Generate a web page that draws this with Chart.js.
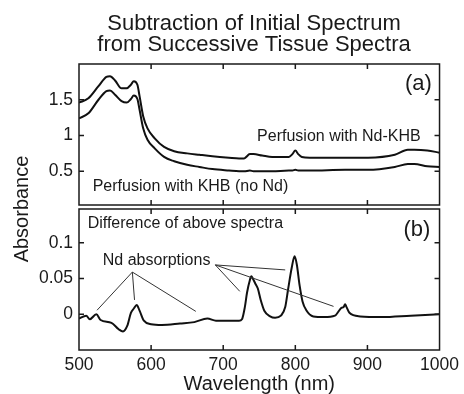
<!DOCTYPE html>
<html>
<head>
<meta charset="utf-8">
<script src="https://cdn.jsdelivr.net/npm/chart.js@4.4.1/dist/chart.umd.min.js"></script>
<style>
  body { margin: 0; background: #fff; }
  canvas { display: block; }
</style>
</head>
<body>
<canvas id="myChart" width="464" height="394"></canvas>
<script>
// panel (a): absorbance spectra
const wlA = [500, 513, 527, 538, 543, 550, 559, 566, 572, 576, 581, 584, 589, 595, 605, 618, 632, 650, 667, 685,
             708, 722, 729, 737, 742, 754, 768, 791, 796, 800, 804, 809, 820, 869, 901, 938, 956, 965, 983, 1000];
const ndKhb = [1.46, 1.52, 1.69, 1.82, 1.83, 1.77, 1.66, 1.66, 1.71, 1.76, 1.71, 1.55, 1.27, 1.10, 0.96, 0.84, 0.78, 0.75, 0.73, 0.71,
               0.69, 0.68, 0.68, 0.74, 0.74, 0.72, 0.70, 0.70, 0.74, 0.79, 0.74, 0.70, 0.69, 0.69, 0.69, 0.73, 0.80, 0.80, 0.79, 0.76];
const khb = [1.24, 1.31, 1.50, 1.62, 1.63, 1.57, 1.48, 1.46, 1.51, 1.56, 1.51, 1.36, 1.10, 0.94, 0.82, 0.70, 0.64, 0.59, 0.56, 0.53,
             0.51, 0.50, 0.50, 0.51, 0.50, 0.50, 0.50, 0.51, 0.51, 0.52, 0.51, 0.51, 0.51, 0.52, 0.52, 0.56, 0.60, 0.60, 0.57, 0.56];

// panel (b): difference spectrum
const wlB = [500, 510, 515, 524, 530, 545, 555, 561, 567, 572, 576, 580, 584, 590, 600, 615, 640, 660, 678, 690,
             722, 726, 730, 733, 737, 739, 741, 745, 748, 752, 757, 765, 772, 780, 786, 790, 795, 799, 802, 806,
             810, 815, 825, 840, 855, 860, 864, 867, 869, 871, 875, 890, 920, 960, 1000];
const diff = [-0.006, -0.002, -0.007, 0.000, -0.008, -0.012, -0.021, -0.024, -0.016, 0.002, 0.008, 0.013, 0.005, -0.009, -0.014, -0.015, -0.013, -0.011, -0.006, -0.009,
              -0.009, -0.007, 0.010, 0.030, 0.048, 0.053, 0.050, 0.042, 0.036, 0.020, 0.005, -0.003, -0.005, -0.002, 0.010, 0.035, 0.065, 0.081, 0.070, 0.040,
              0.018, 0.006, -0.003, -0.004, -0.002, 0.004, 0.009, 0.010, 0.014, 0.010, 0.002, -0.003, -0.004, -0.002, 0.000];

const xTicks = [500, 600, 700, 800, 900, 1000];
const yTicksA = [0.5, 1, 1.5];
const yTicksB = [0, 0.05, 0.1];

const titleLines = ["Subtraction of Initial Spectrum", "from Successive Tissue Spectra"];

// text labels: [text, wavelength, value, panel, font size]
const notes = [
    ["Perfusion with Nd-KHB", 747, 0.98, "ya", 16],
    ["Perfusion with KHB (no Nd)", 519, 0.28, "ya", 16],
    ["(a)", 952, 1.72, "ya", 22],
    ["Difference of above spectra", 512, 0.127, "yb", 16],
    ["(b)", 950, 0.118, "yb", 22],
    ["Nd absorptions", 533, 0.075, "yb", 16]
];
// leader lines from "Nd absorptions" (wavelength, value pairs)
const leaders = [
    [[574, 0.059], [525, 0.0056]],
    [[574, 0.059], [577, 0.020]],
    [[574, 0.059], [662, 0.004]],
    [[689, 0.069], [786, 0.062]],
    [[689, 0.069], [723, 0.032]],
    [[689, 0.069], [853, 0.011]]
];

const FONT = "'Liberation Sans', Arial, Helvetica, sans-serif";
const INK = "#1a1a1a";

function pts(xs, ys) {
    return xs.map((x, i) => ({ x: x, y: ys[i] }));
}

const framePlugin = {
    id: "frame",
    afterDraw(chart) {
        const ctx = chart.ctx;
        const area = chart.chartArea;
        const x = chart.scales.x;
        // the two boxes sit a few pixels apart
        const panels = [
            [chart.scales.ya, yTicksA, chart.scales.ya.top, chart.scales.ya.bottom - 2],
            [chart.scales.yb, yTicksB, chart.scales.yb.top + 2, chart.scales.yb.bottom]
        ];
        ctx.save();
        ctx.strokeStyle = INK;
        ctx.lineWidth = 1.5;
        panels.forEach(([s, ticks, top, bottom]) => {
            ctx.strokeRect(area.left, top, area.right - area.left, bottom - top);
            ctx.beginPath();
            ticks.forEach(v => {
                const py = s.getPixelForValue(v);
                ctx.moveTo(area.left, py); ctx.lineTo(area.left + 5, py);
                ctx.moveTo(area.right, py); ctx.lineTo(area.right - 5, py);
            });
            xTicks.slice(1, -1).forEach(v => {
                const px = x.getPixelForValue(v);
                ctx.moveTo(px, top); ctx.lineTo(px, top + 5);
                ctx.moveTo(px, bottom); ctx.lineTo(px, bottom - 5);
            });
            ctx.stroke();
        });

        // leader lines
        ctx.lineWidth = 1;
        ctx.strokeStyle = "#333";
        ctx.beginPath();
        leaders.forEach(([a, b]) => {
            ctx.moveTo(x.getPixelForValue(a[0]), chart.scales.yb.getPixelForValue(a[1]));
            ctx.lineTo(x.getPixelForValue(b[0]), chart.scales.yb.getPixelForValue(b[1]));
        });
        ctx.stroke();

        // annotation text
        ctx.fillStyle = INK;
        ctx.textAlign = "left";
        ctx.textBaseline = "middle";
        notes.forEach(([t, wl, v, axis, size]) => {
            ctx.font = size + "px " + FONT;
            ctx.fillText(t, x.getPixelForValue(wl), chart.scales[axis].getPixelForValue(v));
        });

        // main title
        ctx.textAlign = "center";
        ctx.font = "22px " + FONT;
        titleLines.forEach((t, i) => ctx.fillText(t, 254, 24 + i * 21));

        // shared y axis title
        ctx.font = "20px " + FONT;
        ctx.translate(22, (area.top + area.bottom) / 2 + 2);
        ctx.rotate(-Math.PI / 2);
        ctx.fillText("Absorbance", 0, 0);
        ctx.restore();
    }
};

const tickFont = { family: FONT, size: 17.5 };

const ctx = document.getElementById("myChart").getContext("2d");
const myChart = new Chart(ctx, {
    type: "line",
    data: {
        datasets: [
            { data: pts(wlA, ndKhb), yAxisID: "ya" },
            { data: pts(wlA, khb), yAxisID: "ya" },
            { data: pts(wlB, diff), yAxisID: "yb" }
        ]
    },
    options: {
        responsive: false,
        animation: false,
        layout: { padding: { top: 64, right: 22, left: 0, bottom: 0 } },
        elements: {
            point: { radius: 0 },
            line: { borderColor: "#111", borderWidth: 2, cubicInterpolationMode: "monotone" }
        },
        plugins: { legend: { display: false }, tooltip: { enabled: false } },
        scales: {
            x: {
                type: "linear",
                position: "bottom",
                min: 500,
                max: 1000,
                grid: { display: false, drawTicks: false },
                border: { display: false },
                ticks: { font: tickFont, color: INK, padding: 5, maxRotation: 0, autoSkip: false, callback: v => String(v) },
                afterBuildTicks: s => { s.ticks = xTicks.map(v => ({ value: v })); },
                afterFit: s => { s.height = 44; },
                title: {
                    display: true,
                    text: "Wavelength (nm)",
                    color: INK,
                    font: { family: FONT, size: 20, lineHeight: 1 },
                    padding: 0
                }
            },
            yb: {
                type: "linear",
                position: "left",
                stack: "abs",
                stackWeight: 1,
                min: -0.05,
                max: 0.15,
                grid: { display: false, drawTicks: false },
                border: { display: false },
                ticks: { font: tickFont, color: INK, padding: 6, callback: v => String(v) },
                afterBuildTicks: s => { s.ticks = yTicksB.map(v => ({ value: v })); },
                afterFit: s => { s.width = 79; }
            },
            ya: {
                type: "linear",
                position: "left",
                stack: "abs",
                stackWeight: 1,
                min: 0,
                max: 2,
                grid: { display: false, drawTicks: false },
                border: { display: false },
                ticks: { font: tickFont, color: INK, padding: 6, callback: v => String(v) },
                afterBuildTicks: s => { s.ticks = yTicksA.map(v => ({ value: v })); },
                afterFit: s => { s.width = 79; }
            }
        }
    },
    plugins: [framePlugin]
});
</script>
</body>
</html>
